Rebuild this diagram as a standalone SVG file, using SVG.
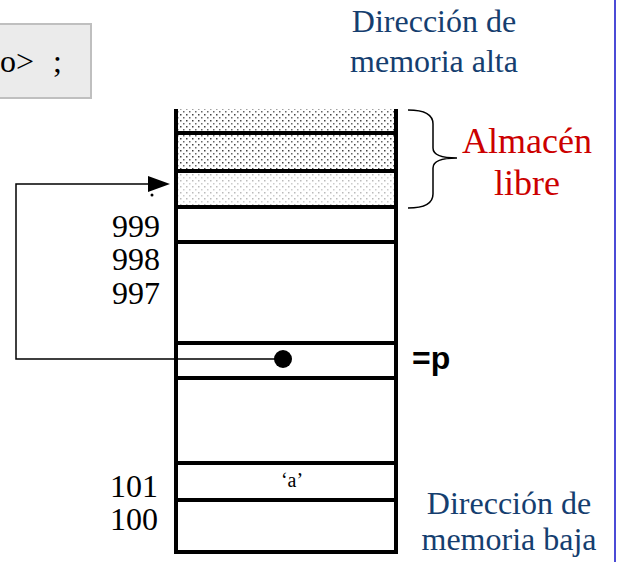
<svg xmlns="http://www.w3.org/2000/svg" width="617" height="562" viewBox="0 0 617 562">
<style>
.serif{font-family:"Liberation Serif","Times New Roman",serif;}
.num{font-size:32px;fill:#000;text-anchor:end;}
.blue{font-size:32px;fill:#153E6F;text-anchor:middle;}
.red{font-size:36px;fill:#CC0000;text-anchor:middle;}
.cell{stroke:#000;stroke-width:4;fill:none;}
.conn{stroke:#000;stroke-width:1.5;fill:none;}
</style>
<defs>
<pattern id="dark" width="6" height="6" patternUnits="userSpaceOnUse">
<rect width="6" height="6" fill="#fff"/>
<rect x="0" y="0" width="1.5" height="1.5" fill="#444"/>
<rect x="3" y="3" width="1.5" height="1.5" fill="#666"/>
</pattern>
<pattern id="light" width="6" height="6" patternUnits="userSpaceOnUse">
<rect width="6" height="6" fill="#fff"/>
<rect x="0" y="0" width="1.5" height="1.5" fill="#bbb"/>
<rect x="3" y="3" width="1.5" height="1.5" fill="#ccc"/>
</pattern>
</defs>
<rect width="617" height="562" fill="#fff"/>
<line x1="615" y1="0" x2="615" y2="562" stroke="#4B4BD6" stroke-width="2"/>

<g id="code-box">
<rect x="-5" y="24" width="96" height="74" fill="#EBEBEB" stroke="#BFBFBF" stroke-width="2"/>
<text class="serif" x="0" y="72" font-size="32" fill="#000">o&gt;<tspan x="53">;</tspan></text>
</g>

<g id="label-high">
<text class="serif blue" x="434" y="32">Dirección de</text>
<text class="serif blue" x="434" y="72">memoria alta</text>
</g>

<g id="memory-stack">
<rect x="176" y="109" width="220" height="24" fill="url(#dark)"/>
<rect x="176" y="133" width="220" height="38" fill="url(#dark)"/>
<rect x="176" y="171" width="220" height="36" fill="url(#light)"/>
<line class="cell" x1="176" y1="109" x2="176" y2="554"/>
<line class="cell" x1="396" y1="109" x2="396" y2="554"/>
<line class="cell" x1="174" y1="552" x2="398" y2="552"/>
<line class="cell" x1="176" y1="133" x2="396" y2="133"/>
<line class="cell" x1="176" y1="171" x2="396" y2="171"/>
<line class="cell" x1="176" y1="207" x2="396" y2="207"/>
<line class="cell" x1="176" y1="242" x2="396" y2="242"/>
<line class="cell" x1="176" y1="343" x2="396" y2="343"/>
<line class="cell" x1="176" y1="378" x2="396" y2="378"/>
<line class="cell" x1="176" y1="463" x2="396" y2="463"/>
<line class="cell" x1="176" y1="500" x2="396" y2="500"/>
<text class="serif" x="292" y="487" font-size="20" text-anchor="middle">‘a’</text>
</g>

<g id="addresses">
<text class="serif num" x="160" y="237">999</text>
<text class="serif num" x="160" y="270">998</text>
<text class="serif num" x="160" y="304">997</text>
<text class="serif num" x="158" y="497">101</text>
<text class="serif num" x="158" y="530">100</text>
<circle cx="152" cy="195" r="1.5" fill="#000"/>
</g>

<g id="free-store">
<path class="conn" d="M408,110 Q433,110 433,124 L433,148 Q433,158 457,158 Q433,158 433,168 L433,194 Q433,208 408,208"/>
<text class="serif red" x="527" y="153">Almacén</text>
<text class="serif red" x="527" y="195">libre</text>
</g>

<g id="pointer-label">
<text x="412" y="369" font-family="'Liberation Sans',Arial,sans-serif" font-weight="bold" font-size="32" fill="#000">=p</text>
</g>

<g id="label-low">
<text class="serif blue" x="509" y="514">Dirección de</text>
<text class="serif blue" x="509" y="550">memoria baja</text>
</g>

<g id="connectors">
<polyline class="conn" points="283,359 16,359 16,184 150,184"/>
<polygon points="148,176 170,184 148,192" fill="#000"/>
<circle cx="283" cy="359" r="9" fill="#000"/>
</g>
</svg>
